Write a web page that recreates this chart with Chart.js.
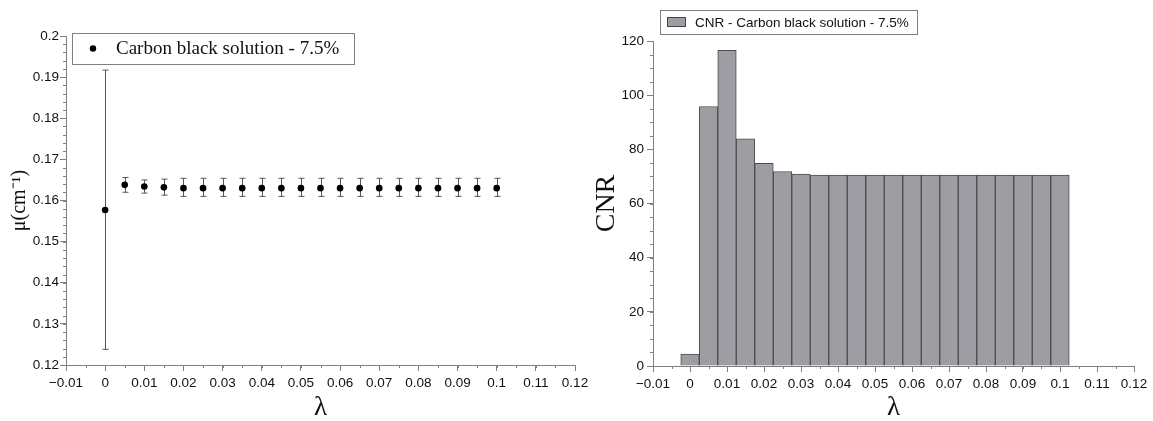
<!DOCTYPE html>
<html>
<head>
<meta charset="utf-8">
<script src="https://cdn.jsdelivr.net/npm/chart.js@4.4.1/dist/chart.umd.min.js"></script>
<style>
  body { margin: 0; background: #fff; width: 1153px; height: 421px; overflow: hidden; position: relative; }
  #muWrap { position: absolute; left: 0; top: 0; width: 600px; height: 421px; }
  #cnrWrap { position: absolute; left: 580px; top: 0; width: 573px; height: 421px; }
</style>
</head>
<body>
<div id="muWrap"><canvas id="muChart"></canvas></div>
<div id="cnrWrap"><canvas id="cnrChart"></canvas></div>
<script>
// lambda values (x) shared by both panels
const lambdas = [0, 0.005, 0.01, 0.015, 0.02, 0.025, 0.03, 0.035, 0.04, 0.045, 0.05,
  0.055, 0.06, 0.065, 0.07, 0.075, 0.08, 0.085, 0.09, 0.095, 0.1];

// attenuation coefficient with error bar limits
const muValues = [0.1577, 0.1638, 0.1634, 0.1632, 0.1630, 0.1630, 0.1630, 0.1630, 0.1630, 0.1630, 0.1630,
  0.1630, 0.1630, 0.1630, 0.1630, 0.1630, 0.1630, 0.1630, 0.1630, 0.1630, 0.1630];
const muLow = [0.1238, 0.1620, 0.1618, 0.1613, 0.1610, 0.1610, 0.1610, 0.1610, 0.1610, 0.1610, 0.1610,
  0.1610, 0.1610, 0.1610, 0.1610, 0.1610, 0.1610, 0.1610, 0.1610, 0.1610, 0.1610];
const muHigh = [0.1917, 0.1656, 0.1650, 0.1652, 0.1654, 0.1654, 0.1654, 0.1654, 0.1654, 0.1654, 0.1654,
  0.1654, 0.1654, 0.1654, 0.1654, 0.1654, 0.1654, 0.1654, 0.1654, 0.1654, 0.1654];

// contrast to noise ratio
const cnrValues = [4.4, 95.8, 116.6, 83.9, 74.8, 71.8, 70.9, 70.5, 70.5, 70.5, 70.5,
  70.5, 70.5, 70.5, 70.5, 70.5, 70.5, 70.5, 70.5, 70.5, 70.5];

const muLabel = 'Carbon black solution - 7.5%';
const cnrLabel = 'CNR - Carbon black solution - 7.5%';

const axisGray = '#808080';
const tickText = '#111';
const tickFont = { family: 'Liberation Sans', size: 13.5 };

function fmt(v) {
  return String(Number(v.toFixed(4))).replace('-', '\u2212');
}

// small ticks between the labelled ones
const minorTicks = {
  id: 'minorTicks',
  afterDraw(chart, args, opts) {
    const ctx = chart.ctx;
    ctx.save();
    ctx.strokeStyle = axisGray;
    ctx.lineWidth = 1;
    ['x', 'y'].forEach(id => {
      const s = chart.scales[id];
      const step = opts[id];
      if (!step) return;
      const n = Math.round((s.max - s.min) / step);
      for (let i = 0; i <= n; i++) {
        const v = s.min + i * step;
        const p = Math.round(s.getPixelForValue(v)) + 0.5;
        ctx.beginPath();
        if (id === 'x') {
          ctx.moveTo(p, s.top);
          ctx.lineTo(p, s.top + opts.len);
        } else {
          ctx.moveTo(s.right, p);
          ctx.lineTo(s.right - opts.len, p);
        }
        ctx.stroke();
      }
    });
    ctx.restore();
  }
};

const errorBars = {
  id: 'errorBars',
  beforeDatasetsDraw(chart) {
    const ctx = chart.ctx;
    const x = chart.scales.x, y = chart.scales.y;
    ctx.save();
    ctx.strokeStyle = '#555';
    ctx.lineWidth = 1;
    lambdas.forEach((l, i) => {
      const px = Math.round(x.getPixelForValue(l)) + 0.5;
      const lo = y.getPixelForValue(muLow[i]);
      const hi = y.getPixelForValue(muHigh[i]);
      ctx.beginPath();
      ctx.moveTo(px, lo); ctx.lineTo(px, hi);
      ctx.moveTo(px - 3, lo); ctx.lineTo(px + 3, lo);
      ctx.moveTo(px - 3, hi); ctx.lineTo(px + 3, hi);
      ctx.stroke();
    });
    ctx.restore();
  }
};

const boxLegend = {
  id: 'boxLegend',
  afterDraw(chart, args, o) {
    const ctx = chart.ctx;
    const a = chart.chartArea;
    const left = a.left + o.dx, top = a.top + o.dy;
    ctx.save();
    ctx.fillStyle = '#fff';
    ctx.fillRect(left, top, o.w, o.h);
    ctx.strokeStyle = axisGray;
    ctx.lineWidth = 1;
    ctx.strokeRect(left + 0.5, top + 0.5, o.w, o.h);
    const cy = top + o.h / 2;
    if (o.kind === 'dot') {
      ctx.fillStyle = '#000';
      ctx.beginPath();
      ctx.arc(left + 21, cy, 3.2, 0, Math.PI * 2);
      ctx.fill();
    } else {
      ctx.fillStyle = '#9e9da3';
      ctx.fillRect(left + 7.5, cy - 4.5, 18, 9);
      ctx.strokeStyle = '#444';
      ctx.strokeRect(left + 7.5, cy - 4.5, 18, 9);
    }
    ctx.fillStyle = '#111';
    ctx.font = o.font;
    ctx.textBaseline = 'middle';
    ctx.fillText(o.text, left + o.tx, cy + 1, o.maxW);
    ctx.restore();
  }
};

function fixAxis(size, horizontal) {
  return function(scale) {
    if (horizontal) {
      scale.height = size;
      scale.paddingLeft = 0;
      scale.paddingRight = 0;
    } else {
      scale.width = size;
      scale.paddingTop = 0;
      scale.paddingBottom = 0;
    }
  };
}

new Chart(document.getElementById('muChart').getContext('2d'), {
  type: 'scatter',
  data: {
    datasets: [{
      label: muLabel,
      data: lambdas.map((l, i) => ({ x: l, y: muValues[i] })),
      backgroundColor: '#000',
      borderWidth: 0,
      pointRadius: 3.3,
      pointHoverRadius: 3.3
    }]
  },
  options: {
    responsive: true,
    maintainAspectRatio: false,
    animation: false,
    layout: { padding: { top: 36, right: 25, left: 0, bottom: 0 } },
    plugins: {
      legend: { display: false },
      tooltip: { enabled: false },
      minorTicks: { x: 0.005, y: 0.002, len: 3 },
      boxLegend: {
        kind: 'dot', dx: 6, dy: -3, w: 282, h: 31, tx: 44, maxW: 228,
        text: muLabel, font: '19px "Liberation Serif"'
      }
    },
    scales: {
      x: {
        type: 'linear', min: -0.01, max: 0.12,
        afterFit: fixAxis(56, true),
        ticks: { stepSize: 0.01, callback: v => fmt(v), color: tickText,
          font: tickFont, padding: 4, maxRotation: 0, autoSkip: false },
        grid: { drawOnChartArea: false, color: axisGray, tickLength: 6 },
        border: { color: axisGray },
        title: { display: true, text: 'λ', color: '#111',
          font: { family: 'Liberation Serif', size: 27, lineHeight: 1 }, padding: { top: 0, bottom: 0 } }
      },
      y: {
        min: 0.12, max: 0.2,
        afterFit: fixAxis(66, false),
        ticks: { stepSize: 0.01, callback: v => fmt(v), color: tickText,
          font: tickFont, padding: 1 },
        grid: { drawOnChartArea: false, color: axisGray, tickLength: 6 },
        border: { color: axisGray },
        title: { display: true, text: 'μ(cm⁻¹)', color: '#111',
          font: { family: 'Liberation Serif', size: 20, lineHeight: 1.2 }, padding: { top: 8, bottom: 0 } }
      }
    }
  },
  plugins: [errorBars, minorTicks, boxLegend]
});

new Chart(document.getElementById('cnrChart').getContext('2d'), {
  type: 'bar',
  data: {
    datasets: [{
      label: cnrLabel,
      data: lambdas.map((l, i) => ({ x: l, y: cnrValues[i] })),
      backgroundColor: '#9e9da3',
      borderColor: '#4d4d4d',
      borderWidth: 1,
      barPercentage: 1,
      categoryPercentage: 1
    }]
  },
  options: {
    responsive: true,
    maintainAspectRatio: false,
    animation: false,
    layout: { padding: { top: 41, right: 19, left: 0, bottom: 0 } },
    plugins: {
      legend: { display: false },
      tooltip: { enabled: false },
      minorTicks: { x: 0.005, y: 5, len: 3 },
      boxLegend: {
        kind: 'box', dx: 7, dy: -31, w: 257, h: 24, tx: 35, maxW: 216,
        text: cnrLabel, font: '13.5px "Liberation Sans"'
      }
    },
    scales: {
      x: {
        type: 'linear', min: -0.01, max: 0.12, offset: false,
        afterFit: fixAxis(55, true),
        ticks: { stepSize: 0.01, callback: v => fmt(v), color: tickText,
          font: tickFont, padding: 4, maxRotation: 0, autoSkip: false },
        grid: { offset: false, drawOnChartArea: false, color: axisGray, tickLength: 6 },
        border: { color: axisGray },
        title: { display: true, text: 'λ', color: '#111',
          font: { family: 'Liberation Serif', size: 27, lineHeight: 1 }, padding: { top: 0, bottom: 0 } }
      },
      y: {
        min: 0, max: 120,
        afterFit: fixAxis(73, false),
        ticks: { stepSize: 20, color: tickText, font: tickFont, padding: 3 },
        grid: { drawOnChartArea: false, color: axisGray, tickLength: 6 },
        border: { color: axisGray },
        title: { display: true, text: 'CNR', color: '#111',
          font: { family: 'Liberation Serif', size: 28, lineHeight: 1 }, padding: { top: 13, bottom: 0 } }
      }
    }
  },
  plugins: [minorTicks, boxLegend]
});
</script>
</body>
</html>
